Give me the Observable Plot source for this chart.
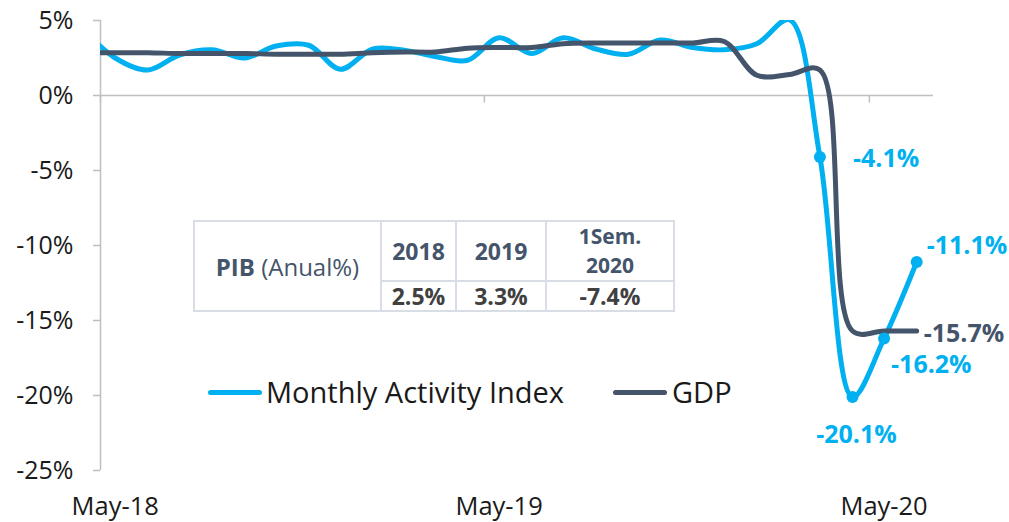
<!DOCTYPE html>
<html>
<head>
<meta charset="utf-8">
<script src="https://cdn.jsdelivr.net/npm/d3@7"></script>
<script src="https://cdn.jsdelivr.net/npm/@observablehq/plot@0.6"></script>
<style>
  html, body { margin: 0; padding: 0; background: #fff; }
  #wrap { position: relative; width: 1009px; height: 522px; font-family: "Open Sans", sans-serif; }
  #legend { position: absolute; left: 0; top: 0; width: 1009px; height: 522px; pointer-events: none; }
  .lg-line { position: absolute; height: 5px; border-radius: 3px; }
  .lg-text { position: absolute; font-size: 29px; color: #1a1a1a; line-height: 1; white-space: nowrap; }
  #pib { position: absolute; left: 193px; top: 220px; border-collapse: collapse; color: #44546A; }
  #pib td { border: 2px solid #D9DEE6; text-align: center; padding: 0; font-weight: 700; font-size: 23px; line-height: 25px; }
  #pib td.val { color: #404040; }
  #pib td.first { font-size: 24px; }
  #pib td.two { font-size: 21px; line-height: 29px; }
  #pib .lab { font-weight: 400; }
</style>
</head>
<body>
<div id="wrap"></div>
<script>
// ---------- data ----------
const months = ["2018-04","2018-05","2018-06","2018-07","2018-08","2018-09","2018-10","2018-11","2018-12",
                "2019-01","2019-02","2019-03","2019-04","2019-05","2019-06","2019-07","2019-08","2019-09","2019-10","2019-11","2019-12",
                "2020-01","2020-02","2020-03","2020-04","2020-05","2020-06"];
const activityIndex = [4.4, 2.5, 1.7, 2.7, 3.05, 2.5, 3.3, 3.35, 1.75,
                       3.1, 3.0, 2.6, 2.35, 3.85, 2.8, 3.85, 3.1, 2.75, 3.7, 3.2, 3.05,
                       3.45, 5.05, -4.1, -20.1, -16.2, -11.1];
const gdp = [2.85, 2.85, 2.85, 2.8, 2.8, 2.8, 2.75, 2.75, 2.75,
             2.85, 2.9, 2.9, 3.15, 3.2, 3.2, 3.45, 3.5, 3.5, 3.5, 3.5, 3.6,
             1.35, 1.4, 1.7, -15.7, -15.7, -15.7];
const labeledMonths = ["2020-03","2020-04","2020-05","2020-06"];
const xTickMonths = ["2018-05","2019-05","2020-05"];
const xTickLabels = ["May-18","May-19","May-20"];
const yTicks = [-25, -20, -15, -10, -5, 0, 5];
const seriesNames = ["Monthly Activity Index", "GDP"];
const tableYears = ["2018", "2019", "1Sem. 2020"];
const tableValues = ["2.5%", "3.3%", "-7.4%"];

// ---------- helpers ----------
const BLUE = "#00B0F0", DARK = "#44546A", GRID = "#BFBFBF";
const mid = s => new Date(Date.UTC(+s.slice(0,4), +s.slice(5,7)-1, 15));
const first = s => new Date(Date.UTC(+s.slice(0,4), +s.slice(5,7)-1, 1));
const fmtPct = v => `${v.toFixed(1)}%`;

const maiData = months.map((m, i) => ({date: mid(m), v: activityIndex[i]}));
const gdpData = months.map((m, i) => ({date: mid(m), v: gdp[i]}));
const maiPts = labeledMonths.map(m => maiData[months.indexOf(m)]);
const labelOffsets = [
  {dx: 33, dy: 2, anchor: "start"},
  {dx: 4, dy: 38, anchor: "middle"},
  {dx: 7, dy: 26, anchor: "start"},
  {dx: 10, dy: -16, anchor: "start"}
];
const gdpLast = gdpData[gdpData.length - 1];
const xTicks = xTickMonths.map(first);
const xLabelData = xTickMonths.map((m, i) => ({date: mid(m), label: xTickLabels[i]}));

const chart = Plot.plot({
  width: 1009,
  height: 522,
  marginLeft: 100,
  marginRight: 76,
  marginTop: 20,
  marginBottom: 52,
  style: {fontFamily: "'Open Sans', sans-serif", fontSize: "25px", color: "#1a1a1a", background: "#fff"},
  x: {type: "utc", domain: [first("2018-05"), first("2020-07")], axis: null},
  y: {domain: [-25, 5], axis: null},
  marks: [
    Plot.ruleY([0], {stroke: GRID, strokeWidth: 1.5}),
    Plot.ruleX([first("2018-05")], {y1: -25, y2: 5, stroke: GRID, strokeWidth: 1.5}),
    Plot.ruleX(xTicks, {x: d => d, y1: 0, y2: -0.5, stroke: GRID, strokeWidth: 1.5}),
    Plot.axisY({ticks: yTicks, tickFormat: d => `${d}%`, tickSize: 7, tickPadding: 20, stroke: GRID, strokeWidth: 1.5, fill: "#1a1a1a", fontSize: 25, label: null}),
    Plot.text(xLabelData, {x: "date", y: -25, dy: 36, text: "label", fill: "#1a1a1a", fontSize: 25.5}),
    Plot.line(maiData, {x: "date", y: "v", stroke: BLUE, strokeWidth: 5, curve: "catmull-rom", clip: true}),
    Plot.line(gdpData, {x: "date", y: "v", stroke: DARK, strokeWidth: 5, curve: "catmull-rom", clip: true}),
    Plot.dot(maiPts, {x: "date", y: "v", r: 6, fill: BLUE}),
    ...maiPts.map((p, i) => Plot.text([p], {x: "date", y: "v", text: d => fmtPct(d.v), dx: labelOffsets[i].dx, dy: labelOffsets[i].dy,
        textAnchor: labelOffsets[i].anchor, fill: BLUE, fontWeight: "bold", fontSize: 25})),
    Plot.text([gdpLast], {x: "date", y: "v", text: d => fmtPct(d.v), dx: 7, dy: 3, textAnchor: "start", fill: DARK, fontWeight: "bold", fontSize: 25})
  ]
});

const wrap = document.getElementById("wrap");
wrap.appendChild(chart);

// legend
const legend = document.createElement("div");
legend.id = "legend";
legend.innerHTML = `
  <div class="lg-line" style="left:208px; top:390px; width:54px; background:${BLUE}"></div>
  <div class="lg-text" style="left:266px; top:377px;">${seriesNames[0]}</div>
  <div class="lg-line" style="left:613px; top:390px; width:54px; background:${DARK}"></div>
  <div class="lg-text" style="left:672px; top:377px;">${seriesNames[1]}</div>`;
wrap.appendChild(legend);

// table
const [y1, y2, y3] = tableYears;
const [s1, s2] = y3.split(" ");
const tbl = document.createElement("table");
tbl.id = "pib";
tbl.innerHTML = `
  <tr style="height:60px">
    <td rowspan="2" class="first" style="width:185px"><span>PIB</span> <span class="lab">(Anual%)</span></td>
    <td style="width:73px">${y1}</td>
    <td style="width:88px">${y2}</td>
    <td class="two" style="width:126px"><div>${s1}</div><div>${s2}</div></td>
  </tr>
  <tr style="height:30px">
    <td class="val">${tableValues[0]}</td>
    <td class="val">${tableValues[1]}</td>
    <td class="val">${tableValues[2]}</td>
  </tr>`;
wrap.appendChild(tbl);
</script>
</body>
</html>
